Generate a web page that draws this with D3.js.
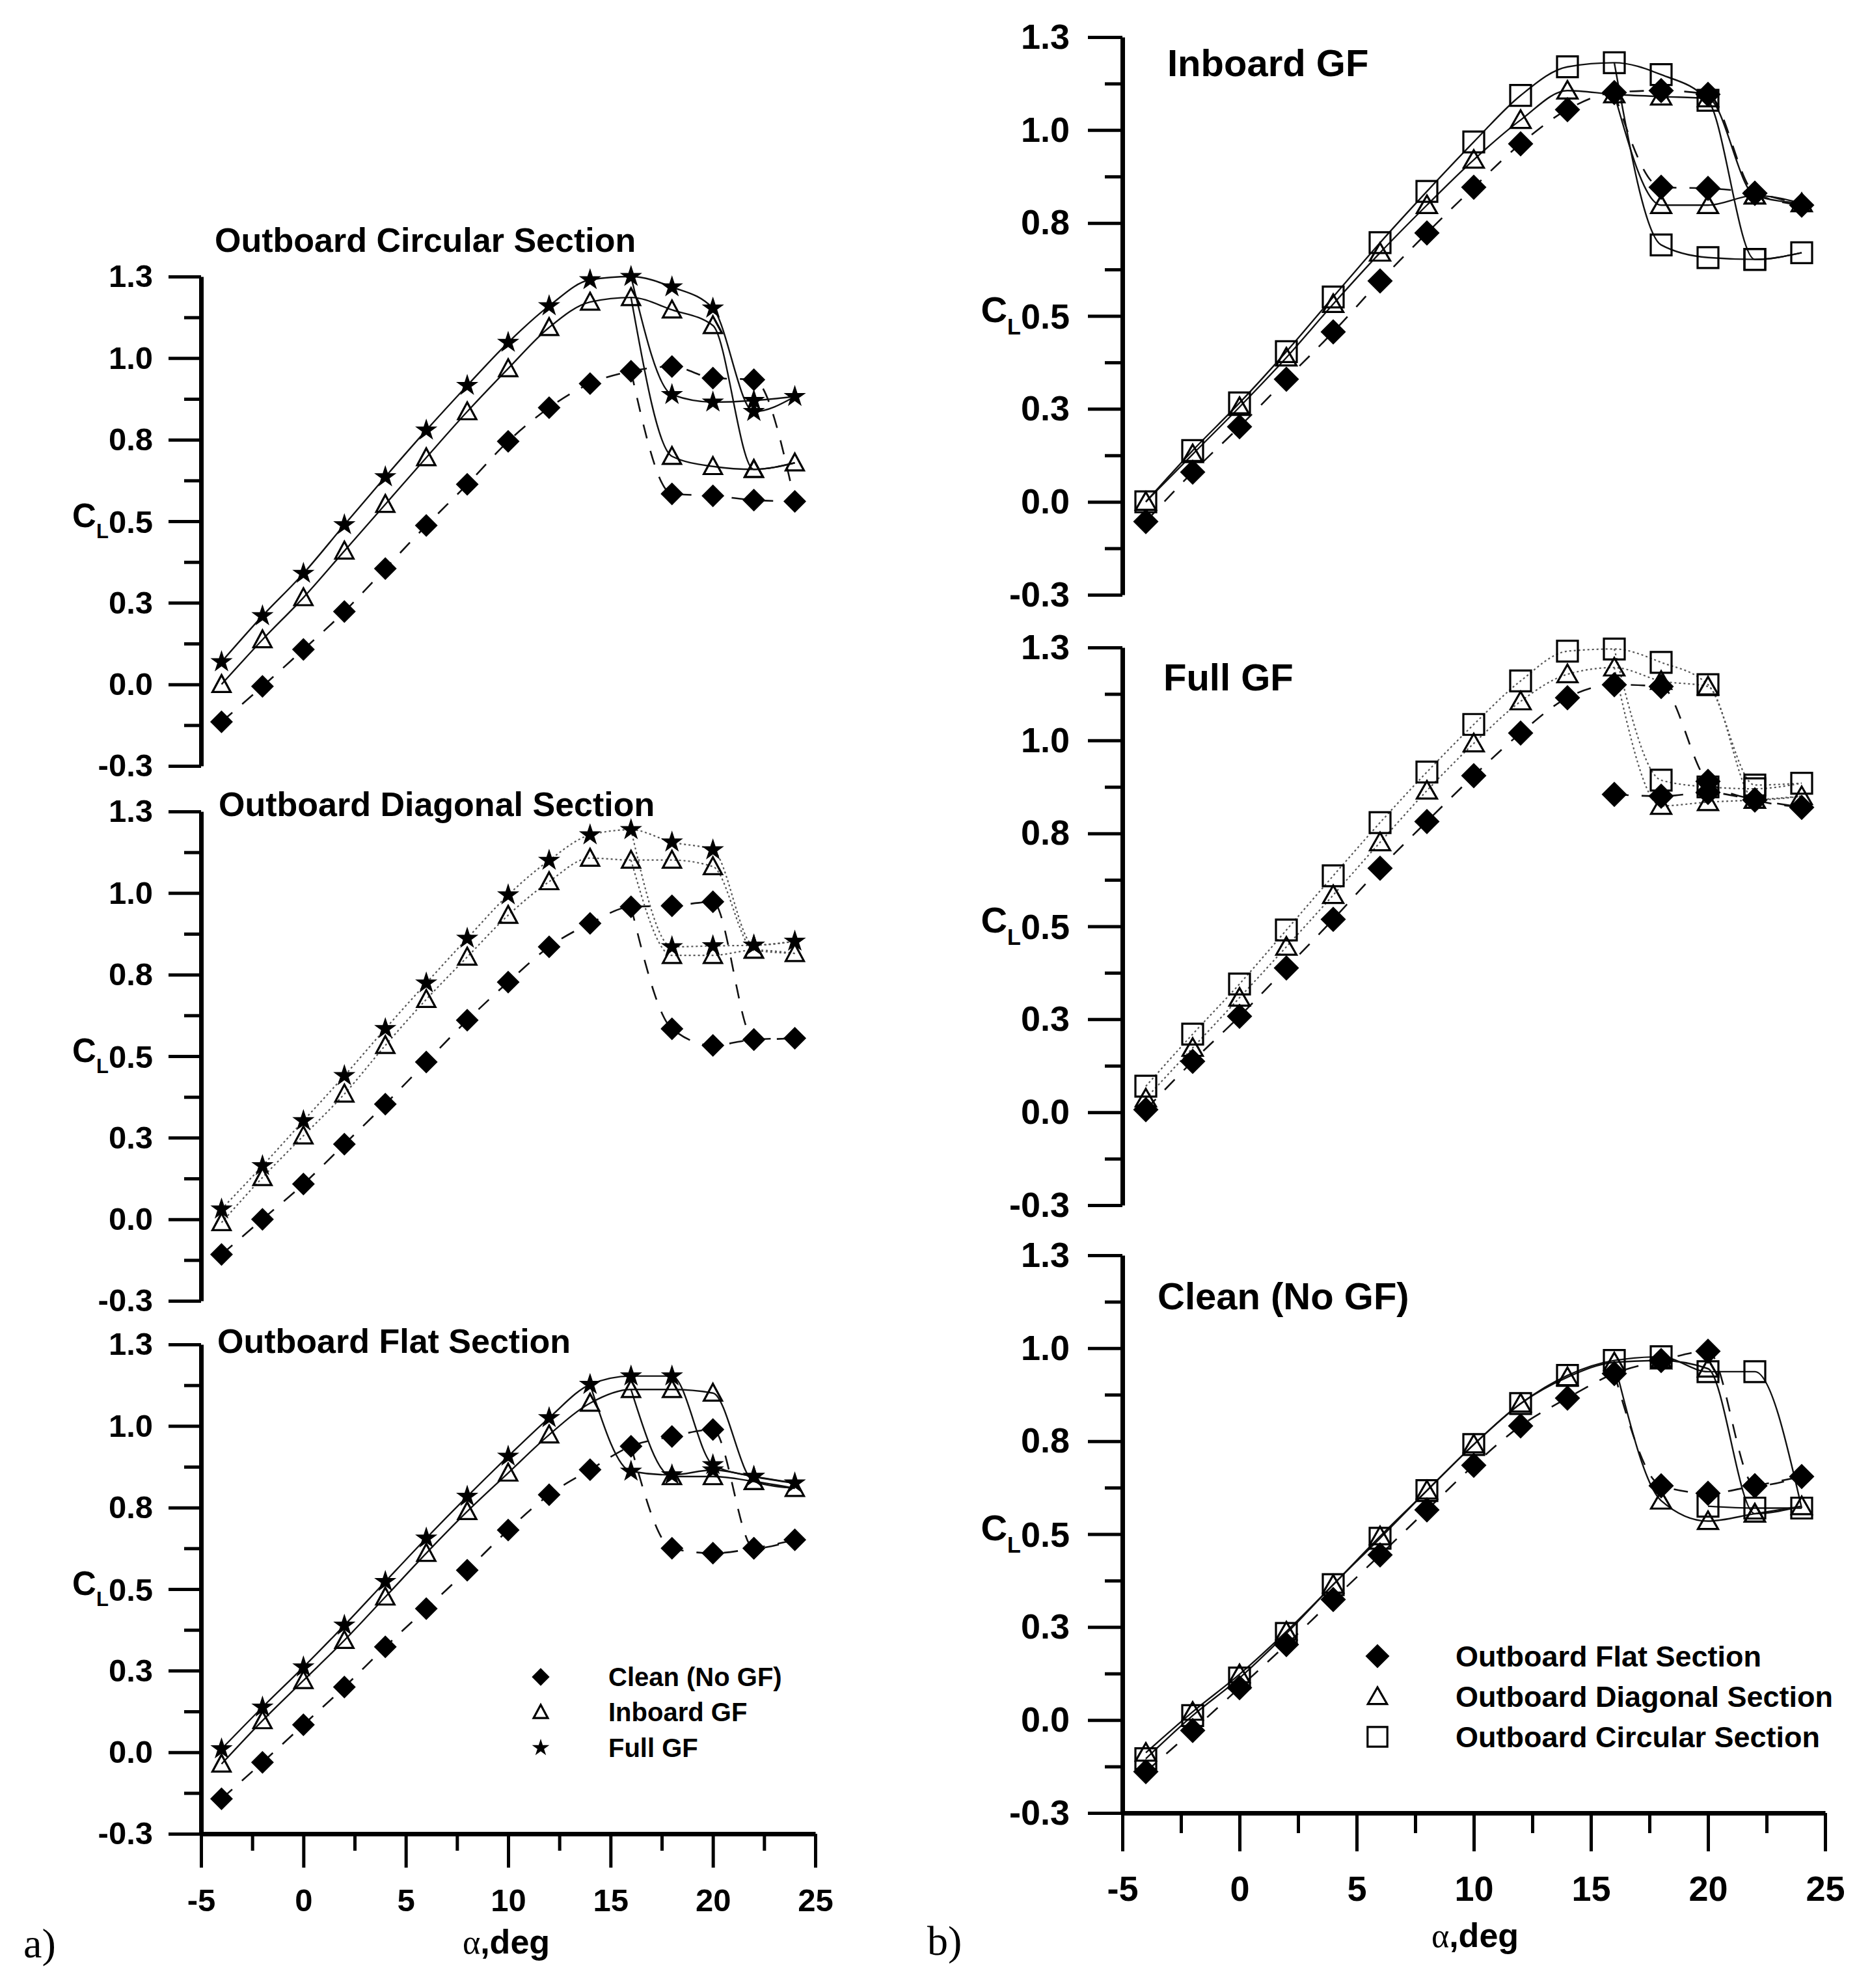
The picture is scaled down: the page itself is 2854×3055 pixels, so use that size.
<!DOCTYPE html>
<html>
<head>
<meta charset="utf-8">
<script src="https://cdn.jsdelivr.net/npm/d3@7"></script>
<style>
  body { margin: 0; background: #fff; }
</style>
</head>
<body>
<div id="chart"></div>
<script>
// angle of attack, deg
const alpha = [-4, -2, 0, 2, 4, 6, 8, 10, 12, 14, 16, 18, 20, 22, 24];

const clTicks = [-0.25, 0, 0.25, 0.5, 0.75, 1, 1.25];
const clTickLabels = ["-0.3", "0.0", "0.3", "0.5", "0.8", "1.0", "1.3"];
const clMinorTicks = [-0.125, 0.125, 0.375, 0.625, 0.875, 1.125];
const alphaTicks = [-5, 0, 5, 10, 15, 20, 25];
const alphaMinorTicks = [-2.5, 2.5, 7.5, 12.5, 17.5, 22.5];

// a) outboard circular section
const circCleanUp = [-0.115, -0.006, 0.107, 0.223, 0.355, 0.487, 0.613, 0.745, 0.848, 0.922, 0.960, 0.974, 0.939, 0.934, 0.561];
const circCleanDown = [0.584, 0.578, 0.565, 0.561];
const circInbUp = [0.000, 0.137, 0.266, 0.409, 0.552, 0.695, 0.836, 0.968, 1.094, 1.172, 1.186, 1.148, 1.100, 0.659, 0.679];
const circInbDown = [0.699, 0.668, 0.659, 0.679];
const circFullUp = [0.069, 0.210, 0.340, 0.489, 0.636, 0.779, 0.916, 1.048, 1.160, 1.240, 1.250, 1.218, 1.153, 0.836, 0.882];
const circFullDown = [0.888, 0.865, 0.870, 0.882];

// a) outboard diagonal section
const diagCleanUp = [-0.108, 0.000, 0.108, 0.230, 0.353, 0.482, 0.610, 0.727, 0.835, 0.907, 0.958, 0.961, 0.973, 0.551, 0.555];
const diagCleanDown = [0.584, 0.533, 0.551, 0.555];
const diagInbUp = [-0.010, 0.128, 0.256, 0.384, 0.533, 0.674, 0.804, 0.932, 1.035, 1.107, 1.101, 1.101, 1.081, 0.825, 0.815];
const diagInbDown = [0.809, 0.809, 0.825, 0.815];
const diagFullUp = [0.031, 0.164, 0.302, 0.440, 0.584, 0.724, 0.861, 0.994, 1.100, 1.178, 1.194, 1.156, 1.132, 0.840, 0.852];
const diagFullDown = [0.835, 0.838, 0.840, 0.852];

// a) outboard flat section
const flatCleanUp = [-0.143, -0.031, 0.084, 0.200, 0.323, 0.440, 0.558, 0.681, 0.789, 0.866, 0.938, 0.968, 0.989, 0.625, 0.651];
const flatCleanDown = [0.625, 0.610, 0.625, 0.651];
const flatInbUp = [-0.036, 0.097, 0.220, 0.343, 0.476, 0.610, 0.738, 0.856, 0.973, 1.070, 1.112, 1.112, 1.101, 0.830, 0.809];
const flatInbDown = [0.845, 0.845, 0.830, 0.809];
const flatFullUp = [0.010, 0.138, 0.261, 0.389, 0.523, 0.656, 0.784, 0.907, 1.025, 1.127, 1.153, 1.153, 0.881, 0.845, 0.825];
const flatFullDown = [0.861, 0.850, 0.865, 0.845, 0.825];

// b) inboard GF
const inbFlatUp = [-0.053, 0.080, 0.202, 0.330, 0.457, 0.594, 0.723, 0.846, 0.963, 1.055, 1.101, 1.106, 1.096, 0.830, 0.798];
const inbFlatDown = [0.846, 0.843, 0.830, 0.798];
const inbDiagUp = [0.000, 0.128, 0.255, 0.388, 0.532, 0.670, 0.798, 0.920, 1.027, 1.106, 1.096, 1.090, 1.085, 0.824, 0.803];
const inbDiagDown = [0.798, 0.798, 0.824, 0.803];
const inbCircUp = [0.000, 0.138, 0.266, 0.404, 0.551, 0.697, 0.835, 0.968, 1.093, 1.170, 1.181, 1.149, 1.080, 0.652, 0.670];
const inbCircDown = [0.691, 0.657, 0.652, 0.670];

// b) full GF
const fullFlatUp = [0.007, 0.137, 0.258, 0.388, 0.519, 0.656, 0.782, 0.905, 1.020, 1.115, 1.150, 1.145, 0.890, 0.840, 0.820];
const fullFlatDown = [0.855, 0.850, 0.860, 0.840, 0.820];
const fullDiagUp = [0.037, 0.173, 0.308, 0.445, 0.584, 0.726, 0.865, 0.992, 1.105, 1.178, 1.196, 1.160, 1.145, 0.840, 0.850];
const fullDiagDown = [0.824, 0.834, 0.840, 0.850];
const fullCircUp = [0.070, 0.210, 0.345, 0.490, 0.636, 0.779, 0.915, 1.043, 1.160, 1.240, 1.246, 1.210, 1.150, 0.880, 0.885];
const fullCircDown = [0.893, 0.875, 0.870, 0.885];

// b) clean (no GF)
const cleanFlatUp = [-0.139, -0.028, 0.087, 0.203, 0.324, 0.444, 0.565, 0.685, 0.791, 0.866, 0.932, 0.967, 0.992, 0.630, 0.655];
const cleanFlatDown = [0.630, 0.610, 0.630, 0.655];
const cleanDiagUp = [-0.088, 0.022, 0.123, 0.238, 0.364, 0.494, 0.617, 0.741, 0.851, 0.922, 0.962, 0.967, 0.945, 0.555, 0.575];
const cleanDiagDown = [0.590, 0.535, 0.555, 0.575];
const cleanCircUp = [-0.104, 0.012, 0.113, 0.233, 0.364, 0.489, 0.617, 0.741, 0.851, 0.927, 0.967, 0.977, 0.937, 0.937, 0.570];
const cleanCircDown = [0.575, 0.570, 0.570];

const FONT = "'Liberation Sans', Arial, Helvetica, sans-serif";
const SERIF = "'Liberation Serif', 'Times New Roman', serif";
const W = 2854, H = 3055;

const colA = {
  x0: 309, x1: 1253, tops: [425, 1247, 2066], h: 752,
  tick: 49, title: 52, major: 50, minor: 26, pad: 24,
  xmajor: 52, xminor: 26, xpad: 32,
  diamond: 17.5, triW: 14, triH: 26, square: 15, star: 18
};
const colB = {
  x0: 1725, x1: 2805, tops: [57, 995, 1929], h: 857,
  tick: 54, title: 58, major: 53, minor: 27, pad: 28,
  xmajor: 59, xminor: 31, xpad: 38,
  diamond: 19.5, triW: 15.5, triH: 27, square: 16, star: 18
};

const panelsA = [
  { title: "Outboard Circular Section", tx: 330, ty: 387, series: [
    { sym: "diamond", style: "dashed", up: circCleanUp, down: circCleanDown, downFrom: 18, join: 16 },
    { sym: "triangle", style: "solid", up: circInbUp, down: circInbDown, downFrom: 18, join: 16 },
    { sym: "star", style: "solid", up: circFullUp, down: circFullDown, downFrom: 18, join: 16 }
  ]},
  { title: "Outboard Diagonal Section", tx: 336, ty: 1254, series: [
    { sym: "diamond", style: "dashed", up: diagCleanUp, down: diagCleanDown, downFrom: 18, join: 16 },
    { sym: "triangle", style: "dotted", up: diagInbUp, down: diagInbDown, downFrom: 18, join: 16 },
    { sym: "star", style: "dotted", up: diagFullUp, down: diagFullDown, downFrom: 18, join: 16 }
  ]},
  { title: "Outboard Flat Section", tx: 334, ty: 2079, series: [
    { sym: "diamond", style: "dashed", up: flatCleanUp, down: flatCleanDown, downFrom: 18, join: 16 },
    { sym: "triangle", style: "solid", up: flatInbUp, down: flatInbDown, downFrom: 18, join: 16 },
    { sym: "star", style: "solid", up: flatFullUp, down: flatFullDown, downFrom: 16, join: 14 }
  ]}
];

const panelsB = [
  { title: "Inboard GF", tx: 1794, ty: 117, series: [
    { sym: "square", style: "solid", up: inbCircUp, down: inbCircDown, downFrom: 18, join: 16 },
    { sym: "triangle", style: "solid", up: inbDiagUp, down: inbDiagDown, downFrom: 18, join: 16 },
    { sym: "diamond", style: "dashed", up: inbFlatUp, down: inbFlatDown, downFrom: 18, join: 16 }
  ]},
  { title: "Full GF", tx: 1788, ty: 1061, series: [
    { sym: "square", style: "dotted", up: fullCircUp, down: fullCircDown, downFrom: 18, join: 16 },
    { sym: "triangle", style: "dotted", up: fullDiagUp, down: fullDiagDown, downFrom: 18, join: 16 },
    { sym: "diamond", style: "dashed", up: fullFlatUp, down: fullFlatDown, downFrom: 16, join: null }
  ]},
  { title: "Clean (No GF)", tx: 1779, ty: 2012, series: [
    { sym: "square", style: "solid", up: cleanCircUp, down: cleanCircDown, downFrom: 20, join: null },
    { sym: "triangle", style: "solid", up: cleanDiagUp, down: cleanDiagDown, downFrom: 18, join: 16 },
    { sym: "diamond", style: "dashed", up: cleanFlatUp, down: cleanFlatDown, downFrom: 18, join: 16 }
  ]}
];

const legendA = [
  { sym: "diamond", label: "Clean (No GF)" },
  { sym: "triangle", label: "Inboard GF" },
  { sym: "star", label: "Full GF" }
];
const legendB = [
  { sym: "diamond", label: "Outboard Flat Section" },
  { sym: "triangle", label: "Outboard Diagonal Section" },
  { sym: "square", label: "Outboard Circular Section" }
];

const svg = d3.select("#chart").append("svg")
  .attr("width", W)
  .attr("height", H)
  .style("background", "#fff");

function markerPath(sym, c, k) {
  k = k || 1;
  if (sym === "diamond") {
    const s = c.diamond * k;
    return `M0,${-s}L${s},0L0,${s}L${-s},0Z`;
  }
  if (sym === "triangle") {
    const w = c.triW * k, h = c.triH * k;
    return `M0,${-0.55 * h}L${w},${0.45 * h}L${-w},${0.45 * h}Z`;
  }
  if (sym === "square") {
    const s = c.square * k;
    return `M${-s},${-s}H${s}V${s}H${-s}Z`;
  }
  const r = c.star * k;
  return d3.symbol().type(d3.symbolStar).size(r * r / 0.8908)();
}

function styleMarker(sel, sym) {
  const open = sym === "triangle" || sym === "square";
  sel.attr("fill", open ? "none" : "#000")
    .attr("stroke", open ? "#000" : "none")
    .attr("stroke-width", open ? 3.2 : 0);
}

function styleLine(sel, style) {
  if (style === "dashed") {
    sel.attr("stroke", "#111").attr("stroke-width", 2.6).attr("stroke-dasharray", "22,20");
  } else if (style === "dotted") {
    sel.attr("stroke", "#555").attr("stroke-width", 2.2).attr("stroke-dasharray", "3,4");
  } else {
    sel.attr("stroke", "#111").attr("stroke-width", 2.4);
  }
}

function styleAxis(g, c) {
  g.attr("font-family", FONT).attr("font-weight", "bold").attr("font-size", c.tick);
  g.selectAll(".tick line").attr("stroke", "#000").attr("stroke-width", 5);
  g.selectAll(".domain").attr("stroke", "#000").attr("stroke-width", 7);
  g.selectAll(".tick text").attr("fill", "#000");
}

function drawPanel(c, idx, panel, isBottom) {
  const top = c.tops[idx];
  const x = d3.scaleLinear().domain([-5, 25]).range([c.x0, c.x1]);
  const y = d3.scaleLinear().domain([-0.25, 1.25]).range([top + c.h, top]);
  const g = svg.append("g");

  // minor ticks on the CL axis
  const ym = g.append("g")
    .attr("transform", `translate(${c.x0},0)`)
    .call(d3.axisLeft(y).tickValues(clMinorTicks).tickSize(c.minor).tickFormat(""));
  ym.select(".domain").remove();
  styleAxis(ym, c);

  const ya = g.append("g")
    .attr("transform", `translate(${c.x0},0)`)
    .call(d3.axisLeft(y)
      .tickValues(clTicks)
      .tickSize(c.major)
      .tickSizeOuter(0)
      .tickPadding(c.pad)
      .tickFormat((d, i) => clTickLabels[i]));
  styleAxis(ya, c);

  // C_L symbol goes in front of the 0.5 label
  const k = c.tick / 49;
  ya.selectAll(".tick text").filter(d => d === 0.5).each(function () {
    const t = d3.select(this).text("").attr("dy", null);
    t.append("tspan").attr("font-size", 51 * k).attr("dy", 8 * k).text("C");
    t.append("tspan").attr("font-size", 31 * k).attr("dy", 17 * k).text("L");
    t.append("tspan").attr("dy", -8 * k).text("0.5");
  });

  if (isBottom) {
    const base = top + c.h;
    const xm = g.append("g")
      .attr("transform", `translate(0,${base})`)
      .call(d3.axisBottom(x).tickValues(alphaMinorTicks).tickSize(c.xminor).tickFormat(""));
    xm.select(".domain").remove();
    styleAxis(xm, c);
    const xa = g.append("g")
      .attr("transform", `translate(0,${base})`)
      .call(d3.axisBottom(x)
        .tickValues(alphaTicks)
        .tickSize(c.xmajor)
        .tickSizeOuter(0)
        .tickPadding(c.xpad)
        .tickFormat(d => String(d)));
    styleAxis(xa, c);
  }

  const line = d3.line()
    .x(d => x(d[0]))
    .y(d => y(d[1]))
    .curve(d3.curveMonotoneX);

  const pts = panel.series.map(s => {
    const up = alpha.map((a, i) => [a, s.up[i]]);
    const dA = alpha.slice(alpha.indexOf(s.downFrom));
    const down = s.down.map((v, i) => [dA[i], v]);
    const downLine = s.join != null
      ? [[s.join, s.up[alpha.indexOf(s.join)]]].concat(down)
      : down;
    return { s, up, down, downLine };
  });

  const lines = g.append("g").attr("fill", "none");
  pts.forEach(p => {
    lines.append("path").attr("d", line(p.up)).call(styleLine, p.s.style);
    lines.append("path").attr("d", line(p.downLine)).call(styleLine, p.s.style);
  });

  const marks = g.append("g");
  pts.forEach(p => {
    const all = p.up.concat(p.down.filter(d => d[0] !== 24));
    marks.selectAll(null)
      .data(all)
      .enter().append("path")
      .attr("transform", d => `translate(${x(d[0])},${y(d[1])})`)
      .attr("d", markerPath(p.s.sym, c))
      .call(styleMarker, p.s.sym);
  });

  g.append("text")
    .attr("x", panel.tx)
    .attr("y", panel.ty)
    .attr("font-family", FONT)
    .attr("font-weight", "bold")
    .attr("font-size", c.title)
    .text(panel.title);
}

panelsA.forEach((p, i) => drawPanel(colA, i, p, i === 2));
panelsB.forEach((p, i) => drawPanel(colB, i, p, i === 2));

function drawLegend(items, mx, tx, rows, c, k, fs) {
  const g = svg.append("g");
  items.forEach((it, i) => {
    g.append("path")
      .attr("transform", `translate(${mx},${rows[i]})`)
      .attr("d", markerPath(it.sym, c, k))
      .call(styleMarker, it.sym);
    g.append("text")
      .attr("x", tx)
      .attr("y", rows[i])
      .attr("dy", "0.36em")
      .attr("font-family", FONT)
      .attr("font-weight", "bold")
      .attr("font-size", fs)
      .text(it.label);
  });
}

drawLegend(legendA, 831, 935, [2577, 2631, 2686], colA, 0.78, 40);
drawLegend(legendB, 2117, 2237, [2545, 2607, 2669], colB, 0.95, 45);

// axis titles and sub-figure labels
function alphaLabel(xp, yp) {
  const t = svg.append("text")
    .attr("x", xp)
    .attr("y", yp)
    .attr("text-anchor", "middle")
    .attr("font-size", 52);
  t.append("tspan").attr("font-family", SERIF).text("α");
  t.append("tspan").attr("font-family", FONT).attr("font-weight", "bold").text(",deg");
}
alphaLabel(778, 3002);
alphaLabel(2267, 2992);

svg.append("text").attr("x", 36).attr("y", 3008)
  .attr("font-family", SERIF).attr("font-size", 64).text("a)");
svg.append("text").attr("x", 1425).attr("y", 3004)
  .attr("font-family", SERIF).attr("font-size", 64).text("b)");
</script>
</body>
</html>
